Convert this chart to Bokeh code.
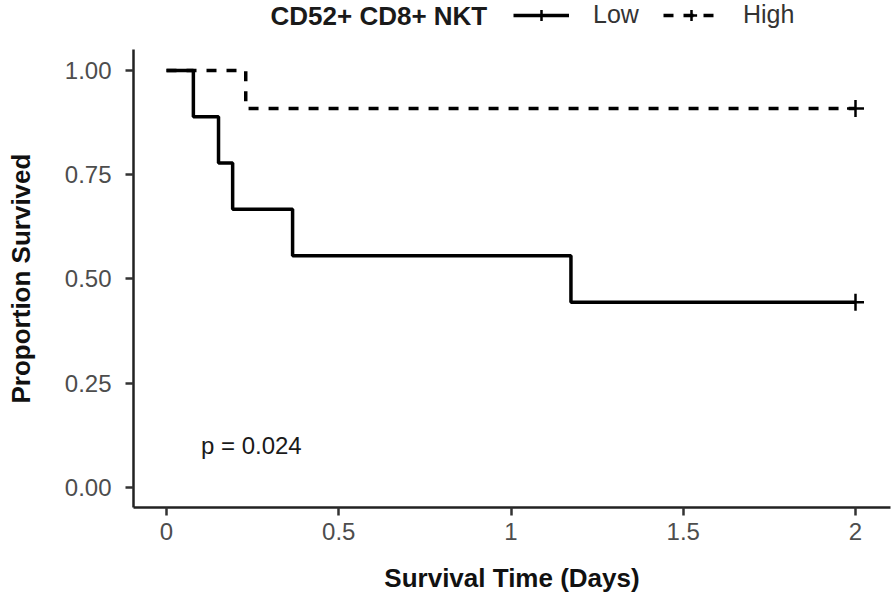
from bokeh.plotting import figure
from bokeh.models import Legend, LegendItem, Range1d, FixedTicker, Label, Title
from bokeh.embed import file_html
from bokeh.resources import INLINE

# ---- data ----
low_time = [0.0, 0.078, 0.151, 0.192, 0.366, 1.174, 2.0]
low_surv = [1.0, 0.889, 0.778, 0.667, 0.556, 0.444, 0.444]
high_time = [0.0, 0.23, 2.0]
high_surv = [1.0, 0.909, 0.909]
low_censor_t = [2.0]
low_censor_s = [0.444]
high_censor_t = [2.0]
high_censor_s = [0.909]
x_ticks = [0, 0.5, 1, 1.5, 2]
x_tick_labels = ["0", "0.5", "1", "1.5", "2"]
y_ticks = [0, 0.25, 0.5, 0.75, 1.0]
y_tick_labels = ["0.00", "0.25", "0.50", "0.75", "1.00"]
legend_title = "CD52+ CD8+ NKT"
group_labels = ["Low", "High"]
x_title = "Survival Time (Days)"
y_title = "Proportion Survived"
pval_text = "p = 0.024"

FONT = "Liberation Sans"

# frame extends to the top of the figure so the legend (drawn inside the frame) is not clipped;
# the y axis line is bounded to the data range.
p = figure(width=893, height=604, output_backend="svg", toolbar_location=None,
           x_range=Range1d(-0.0958, 2.1016), y_range=Range1d(-0.048, 1.1678),
           min_border_left=133, min_border_right=3, min_border_top=0, min_border_bottom=97)
p.outline_line_color = None
p.xgrid.visible = False
p.ygrid.visible = False

low_line = p.step(low_time, low_surv, mode="after", line_color="black", line_width=3.5)
high_line = p.step(high_time, high_surv, mode="after", line_color="black", line_width=3.5,
                   line_dash="10 10")
low_c = p.scatter(low_censor_t, low_censor_s, marker="cross", size=17, line_color="black", line_width=2.5)
high_c = p.scatter(high_censor_t, high_censor_s, marker="cross", size=17, line_color="black", line_width=2.5)

p.add_layout(Label(x=0.1, y=0.1, text=pval_text, text_font=FONT, text_font_size="24px",
                   text_color="#1a1a1a", text_baseline="middle", text_align="left"))

for ax in (p.xaxis[0], p.yaxis[0]):
    ax.axis_line_width = 2.5
    ax.axis_line_color = "#222222"
    ax.major_tick_line_width = 2.5
    ax.major_tick_line_color = "#333333"
    ax.major_tick_out = 8
    ax.major_tick_in = 0
    ax.minor_tick_line_color = None
    ax.major_label_text_font = FONT
    ax.major_label_text_font_size = "24px"
    ax.major_label_text_color = "#4D4D4D"
    ax.axis_label_text_font = FONT
    ax.axis_label_text_font_size = "26px"
    ax.axis_label_text_font_style = "bold"
    ax.axis_label_text_color = "#111111"

p.yaxis.bounds = (-0.048, 1.05)
p.xaxis.ticker = FixedTicker(ticks=x_ticks)
p.xaxis.major_label_overrides = {t: l for t, l in zip(x_ticks, x_tick_labels)}
p.yaxis.ticker = FixedTicker(ticks=y_ticks)
p.yaxis.major_label_overrides = {t: l for t, l in zip(y_ticks, y_tick_labels)}
p.xaxis.axis_label = x_title
p.xaxis.major_label_standoff = 7
p.yaxis.major_label_standoff = 14
p.xaxis.axis_label_standoff = 20
# blank, tiny y axis label only widens the axis panel so the side title sits further left
p.yaxis.axis_label = " "
p.yaxis.axis_label_text_font_size = "2px"
p.yaxis.axis_label_standoff = 19

# y title as a side-panel title, shifted so it is centred on the data area
p.add_layout(Title(text=y_title, align="left", offset=104, standoff=4,
                   text_font=FONT, text_font_size="26px", text_font_style="bold",
                   text_color="#111111"), "left")

# legend title, placed above the data area (screen units from the frame's bottom-left)
p.add_layout(Label(x=137, y=492, x_units="screen", y_units="screen", text=legend_title,
                   text_font=FONT, text_font_size="26px", text_font_style="bold",
                   text_color="#1a1a1a", text_baseline="middle", text_align="left"))

legend = Legend(items=[LegendItem(label=group_labels[0], renderers=[low_line, low_c]),
                       LegendItem(label=group_labels[1], renderers=[high_line, high_c])],
                orientation="horizontal", location=(380, 478),
                label_text_font=FONT, label_text_font_size="25px", label_text_color="#333333",
                glyph_width=56, glyph_height=28, label_standoff=24, spacing=24,
                border_line_color=None, background_fill_alpha=0, padding=0, margin=0)
p.add_layout(legend, "center")

open("out.html", "w").write(file_html(p, INLINE))
